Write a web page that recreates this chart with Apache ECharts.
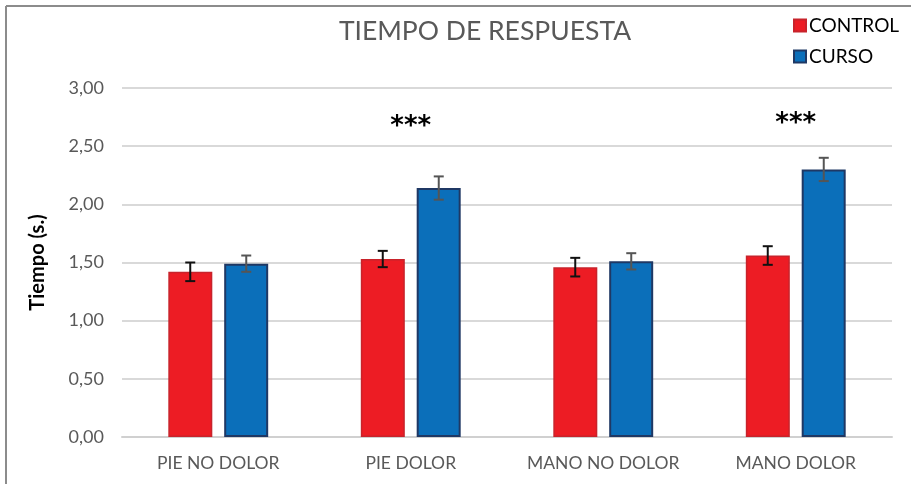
<!DOCTYPE html>
<html><head><meta charset="utf-8">
<script src="https://cdn.jsdelivr.net/npm/echarts@6/dist/echarts.min.js"></script>
<style>html,body{margin:0;padding:0;background:#fff;}#c{width:911px;height:484px;}</style>
</head><body><div id="c"></div>
<script>
const categories = ['PIE NO DOLOR', 'PIE DOLOR', 'MANO NO DOLOR', 'MANO DOLOR'];
const controlValues = [1.42, 1.53, 1.46, 1.56];
const controlErrors = [0.08, 0.07, 0.08, 0.08];
const cursoValues = [1.49, 2.14, 1.51, 2.30];
const cursoErrors = [0.07, 0.10, 0.07, 0.10];
const sigLabels = ['', '***', '', '***'];
const sigLevels = [0, 2.66, 0, 2.69];
const yTicks = [0, 0.5, 1, 1.5, 2, 2.5, 3];

const chart = echarts.init(document.getElementById('c'), null, {renderer: 'canvas'});
const font = 'Lato, "Open Sans", sans-serif';

function errorSeries(values, errors, seriesIndex, color) {
  return {
    type: 'custom',
    z: 10,
    silent: true,
    data: values.map((v, i) => [i, v - errors[i], v + errors[i]]),
    renderItem: function (params, api) {
      const i = api.value(0);
      const lo = api.coord([i, api.value(1)]);
      const hi = api.coord([i, api.value(2)]);
      const barW = 44, gap = 12;
      const offset = seriesIndex === 0 ? -(barW + gap) / 2 : (barW + gap) / 2;
      const x = lo[0] + offset;
      const cap = 5;
      const st = {stroke: color, lineWidth: 2};
      return {type: 'group', children: [
        {type: 'line', shape: {x1: x, y1: lo[1], x2: x, y2: hi[1]}, style: st},
        {type: 'line', shape: {x1: x - cap, y1: lo[1], x2: x + cap, y2: lo[1]}, style: st},
        {type: 'line', shape: {x1: x - cap, y1: hi[1], x2: x + cap, y2: hi[1]}, style: st}
      ]};
    }
  };
}

chart.setOption({
  animation: false,
  backgroundColor: '#fff',
  title: {
    text: 'TIEMPO DE RESPUESTA',
    left: 480, top: 13, textAlign: 'center',
    textStyle: {fontFamily: font, fontSize: 26.5, fontWeight: 'normal', color: '#595959'}
  },
  legend: {
    orient: 'vertical', left: 788, top: 11, itemGap: 12,
    itemWidth: 12, itemHeight: 12, icon: 'rect',
    textStyle: {fontFamily: font, fontSize: 19, color: '#000', padding: [0, 0, 0, -2]},
    data: ['CONTROL', 'CURSO']
  },
  grid: {left: 122, right: 19, top: 88, bottom: 47, containLabel: false},
  xAxis: {
    type: 'category', data: categories,
    axisLine: {lineStyle: {color: '#d0d0d0', width: 2}},
    axisTick: {show: false},
    axisLabel: {interval: 0, fontFamily: font, fontSize: 17.5, color: '#595959', margin: 17}
  },
  yAxis: {
    type: 'value', min: 0, max: 3, interval: 0.5,
    name: 'Tiempo (s.)', nameLocation: 'middle', nameGap: 74,
    nameTextStyle: {fontFamily: font, fontSize: 20, fontWeight: 'bold', color: '#000'},
    axisLine: {show: false}, axisTick: {show: false},
    splitLine: {lineStyle: {color: '#d9d9d9', width: 2}},
    axisLabel: {fontFamily: font, fontSize: 18, color: '#595959', margin: 18,
      formatter: v => yTicks.includes(v) ? v.toFixed(2).replace('.', ',') : ''}
  },
  series: [
    {name: 'CONTROL', type: 'bar', data: controlValues, barWidth: 44, barGap: '27%',
     itemStyle: {color: '#ED1C24', borderColor: '#C8232B', borderWidth: 1.5}},
    {name: 'CURSO', type: 'bar', data: cursoValues, barWidth: 44,
     itemStyle: {color: '#0B6FBA', borderColor: '#1F3864', borderWidth: 2}},
    errorSeries(controlValues, controlErrors, 0, '#111'),
    errorSeries(cursoValues, cursoErrors, 1, '#555'),
    {
      type: 'custom', z: 11, silent: true,
      data: sigLabels.map((s, i) => [i, sigLevels[i], s]),
      renderItem: function (params, api) {
        const i = api.value(0);
        const s = sigLabels[i];
        if (!s) return null;
        const p = api.coord([i, api.value(1)]);
        return {type: 'text', x: p[0], y: p[1], style: {
          text: s, align: 'center', verticalAlign: 'middle',
          font: 'bold 26px "DejaVu Sans", sans-serif', fill: '#000'}};
      }
    }
  ],
  graphic: [
    {type: 'line', shape: {x1: 6, y1: 6, x2: 911, y2: 6}, style: {stroke: '#8c8c8c', lineWidth: 2}},
    {type: 'line', shape: {x1: 6, y1: 6, x2: 6, y2: 484}, style: {stroke: '#8c8c8c', lineWidth: 2}}
  ]
});
</script></body></html>
